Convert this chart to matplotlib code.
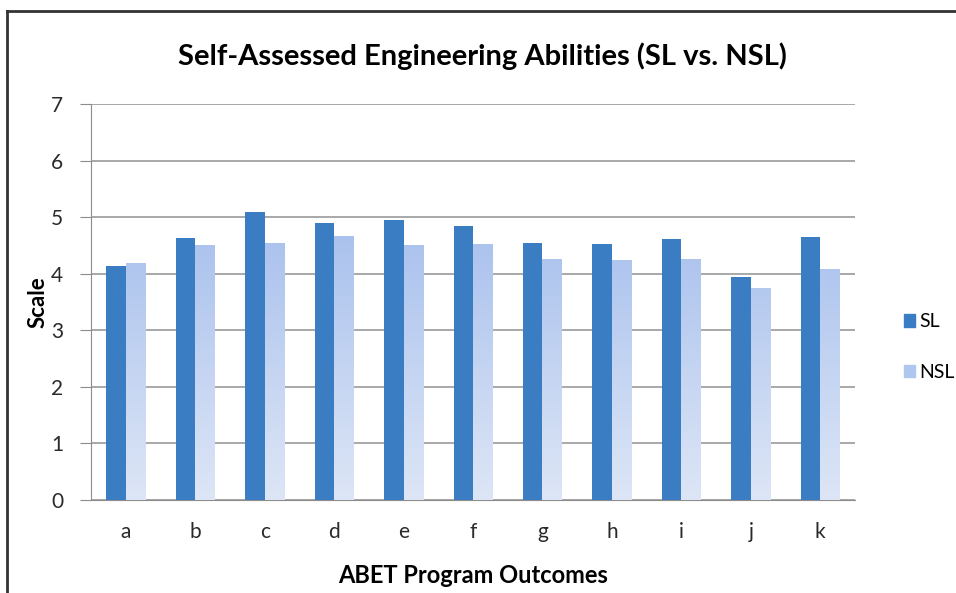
import numpy as np
import matplotlib.pyplot as plt
from matplotlib.lines import Line2D
from matplotlib.patches import Patch
from matplotlib.colors import LinearSegmentedColormap

plt.rcParams['font.family'] = ['Lato', 'DejaVu Sans']

categories = ['a', 'b', 'c', 'd', 'e', 'f', 'g', 'h', 'i', 'j', 'k']
sl = [4.13, 4.64, 5.09, 4.90, 4.95, 4.85, 4.54, 4.52, 4.61, 3.94, 4.65]
nsl = [4.19, 4.50, 4.55, 4.66, 4.51, 4.53, 4.26, 4.25, 4.26, 3.75, 4.09]
yticks = [0, 1, 2, 3, 4, 5, 6, 7]

sl_color = '#3A7DC2'
nsl_top = '#91B0E9'
nsl_bottom = '#DDE6F6'

fig = plt.figure(figsize=(9.56, 5.93), dpi=100)
ax = fig.add_axes([91/956, 1-500/593, (855-91)/956, (500-104)/593])

x = np.arange(len(categories))
w = 0.28
ax.bar(x - w/2, sl, width=w, color=sl_color, zorder=3)
nsl_bars = ax.bar(x + w/2, nsl, width=w, color='none', zorder=3)

# vertical gradient fill for the NSL bars
grad = np.linspace(0, 1, 256).reshape(-1, 1)
cmap = LinearSegmentedColormap.from_list('nsl', [nsl_bottom, nsl_top])
for b in nsl_bars:
    x0, y0 = b.get_x(), b.get_y()
    im = ax.imshow(grad, cmap=cmap, origin='lower', aspect='auto',
                   extent=[x0, x0 + b.get_width(), y0, 7], zorder=3)
    im.set_clip_path(b)

ax.set_xlim(-0.5, len(categories) - 0.5)
ax.set_ylim(0, 7)
ax.set_yticks(yticks)
ax.set_xticks(x)
ax.set_xticklabels(categories)
ax.yaxis.grid(True, color='#9A9A9A', lw=1.2, zorder=0)
ax.set_axisbelow(True)
for s in ['top', 'right']:
    ax.spines[s].set_visible(False)
ax.spines['left'].set_color('#8C8C8C')
ax.spines['bottom'].set_color('#8C8C8C')
ax.tick_params(axis='y', length=8, color='#8C8C8C', labelsize=15, pad=12, labelcolor='#2A2A2A')
ax.tick_params(axis='x', length=0, labelsize=15, pad=16, labelcolor='#2A2A2A')

ax.set_xlabel('ABET Program Outcomes', fontsize=17, fontweight='bold', labelpad=16)
ax.set_ylabel('Scale', fontsize=16, fontweight='bold', labelpad=2)
fig.text(482/956, 1-56/593, 'Self-Assessed Engineering Abilities (SL vs. NSL)',
         ha='center', va='center', fontsize=21, fontweight='bold')

handles = [Patch(color=sl_color), Patch(color='#AFC6EE')]
fig.legend(handles, ['SL', 'NSL'], loc='center left', bbox_to_anchor=(896/956, 1-347/593),
           frameon=False, fontsize=14, handlelength=0.6, handleheight=0.6,
           handletextpad=0.2, labelspacing=1.7, borderaxespad=0)

# outer frame (only top and left edges are visible in the crop)
fig.add_artist(Line2D([6.5/956, 6.5/956], [0, 1-10.5/593], transform=fig.transFigure, color='#333333', lw=2))
fig.add_artist(Line2D([6.5/956, 1], [1-10.5/593, 1-10.5/593], transform=fig.transFigure, color='#333333', lw=2))

fig.savefig('out.png', dpi=100)
